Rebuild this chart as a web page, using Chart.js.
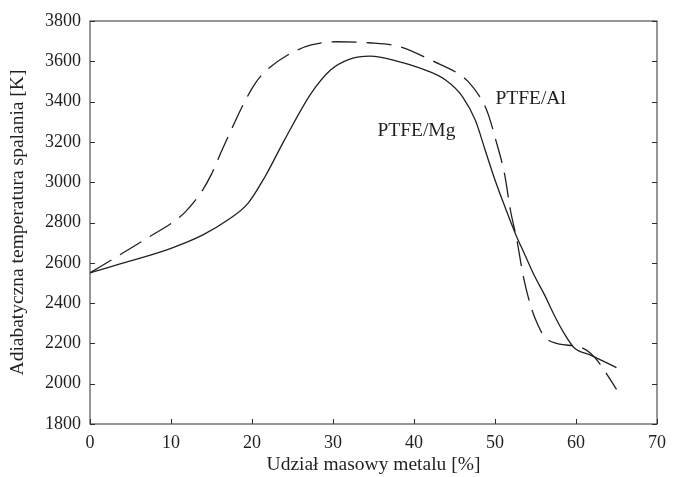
<!DOCTYPE html>
<html>
<head>
<meta charset="utf-8">
<script src="https://cdn.jsdelivr.net/npm/chart.js@4/dist/chart.umd.min.js"></script>
<style>
    html, body { margin: 0; padding: 0; background: #fff; }
    #wrap { width: 674px; height: 477px; position: relative; }
</style>
</head>
<body>
<div id="wrap"><canvas id="chart"></canvas></div>
<script>
// Udział masowy metalu [%] vs adiabatyczna temperatura spalania [K]
const mgX = [0, 5, 10, 14, 17, 19.5, 21.6, 24, 27.3, 29.7, 32, 34.6, 38, 41.5, 43.9, 46, 47.6, 48.7, 50, 51.3, 52.5, 53.7, 54.9, 56.1, 57.3, 58.5, 59.8, 61.8, 65];
const mgY = [2550, 2609, 2672, 2740, 2812, 2895, 3027, 3209, 3441, 3557, 3610, 3626, 3600, 3555, 3507, 3424, 3305, 3170, 3011, 2870, 2746, 2639, 2533, 2442, 2341, 2252, 2177, 2142, 2080];

const alX = [0, 3.3, 7, 10.6, 11.8, 13.9, 15, 16.3, 17.9, 19.1, 20.4, 21.6, 24.4, 27.3, 30.5, 34.4, 38.2, 42.5, 45.6, 46.7, 48.6, 49.2, 50.1, 51.2, 51.9, 52.7, 53.5, 54.5, 55.3, 56.1, 57.6, 58.8, 60.6, 61.8, 62.9, 65];
const alY = [2550, 2630, 2721, 2812, 2854, 2961, 3040, 3160, 3300, 3400, 3491, 3548, 3631, 3681, 3697, 3692, 3673, 3598, 3535, 3499, 3391, 3333, 3209, 3036, 2862, 2713, 2531, 2374, 2291, 2233, 2200, 2192, 2181, 2151, 2101, 1972];

const xTicks = [0, 10, 20, 30, 40, 50, 60, 70];
const yTicks = [1800, 2000, 2200, 2400, 2600, 2800, 3000, 3200, 3400, 3600, 3800];

const curveLabels = ['PTFE/Al', 'PTFE/Mg'];
const curveLabelX = [54.4, 40.3];
const curveLabelY = [3413, 3254];

const ink = '#231f20';
const fontFamily = '"Liberation Serif", "DejaVu Serif", serif';

const toPoints = (xs, ys) => xs.map((x, i) => ({ x: x, y: ys[i] }));

// frame, inward ticks and curve names
const framePlugin = {
    id: 'frame',
    afterDraw(chart) {
        const { ctx, chartArea: a, scales } = chart;
        ctx.save();
        ctx.strokeStyle = '#2e2e2e';
        ctx.lineWidth = 1;
        ctx.strokeRect(a.left, a.top, a.right - a.left, a.bottom - a.top);

        ctx.beginPath();
        xTicks.forEach(v => {
            const px = Math.round(scales.x.getPixelForValue(v)) + 0.5;
            ctx.moveTo(px, a.bottom);
            ctx.lineTo(px, a.bottom - 5);
        });
        yTicks.forEach(v => {
            const py = Math.round(scales.y.getPixelForValue(v)) + 0.5;
            ctx.moveTo(a.left, py);
            ctx.lineTo(a.left + 5, py);
            ctx.moveTo(a.right, py);
            ctx.lineTo(a.right - 5, py);
        });
        ctx.stroke();

        ctx.fillStyle = ink;
        ctx.font = '19.5px ' + fontFamily;
        ctx.textAlign = 'center';
        ctx.textBaseline = 'middle';
        curveLabels.forEach((t, i) => {
            ctx.fillText(t, scales.x.getPixelForValue(curveLabelX[i]), scales.y.getPixelForValue(curveLabelY[i]));
        });
        ctx.restore();
    }
};

new Chart(document.getElementById('chart').getContext('2d'), {
    type: 'line',
    data: {
        datasets: [
            {
                label: 'PTFE/Mg',
                data: toPoints(mgX, mgY),
                borderColor: ink,
                borderWidth: 1.3,
                pointRadius: 0,
                cubicInterpolationMode: 'monotone',
                fill: false
            },
            {
                label: 'PTFE/Al',
                data: toPoints(alX, alY),
                borderColor: ink,
                borderWidth: 1.3,
                borderDash: [25, 10],
                pointRadius: 0,
                cubicInterpolationMode: 'monotone',
                fill: false
            }
        ]
    },
    options: {
        responsive: true,
        maintainAspectRatio: false,
        animation: false,
        layout: { padding: { top: 21, right: 10, left: 0, bottom: 0 } },
        plugins: {
            legend: { display: false },
            tooltip: { enabled: false }
        },
        scales: {
            x: {
                type: 'linear',
                min: 0,
                max: 70,
                afterFit: scale => { scale.height = 53; },
                afterBuildTicks: scale => { scale.ticks = xTicks.map(v => ({ value: v })); },
                grid: { display: false, drawTicks: false },
                border: { display: false },
                ticks: {
                    padding: 8,
                    color: ink,
                    font: { family: fontFamily, size: 18 },
                    callback: v => String(v)
                },
                title: {
                    display: true,
                    text: 'Udział masowy metalu [%]',
                    color: ink,
                    font: { family: fontFamily, size: 19.5 },
                    padding: { top: 0, bottom: 0 }
                }
            },
            y: {
                min: 1800,
                max: 3800,
                afterFit: scale => { scale.width = 90; },
                afterBuildTicks: scale => { scale.ticks = yTicks.map(v => ({ value: v })); },
                grid: { display: false, drawTicks: false },
                border: { display: false },
                ticks: {
                    padding: 9,
                    color: ink,
                    font: { family: fontFamily, size: 18 },
                    callback: v => String(v)
                },
                title: {
                    display: true,
                    text: 'Adiabatyczna temperatura spalania [K]',
                    color: ink,
                    font: { family: fontFamily, size: 19.5 },
                    padding: { top: 6, bottom: 0 }
                }
            }
        }
    },
    plugins: [framePlugin]
});
</script>
</body>
</html>
